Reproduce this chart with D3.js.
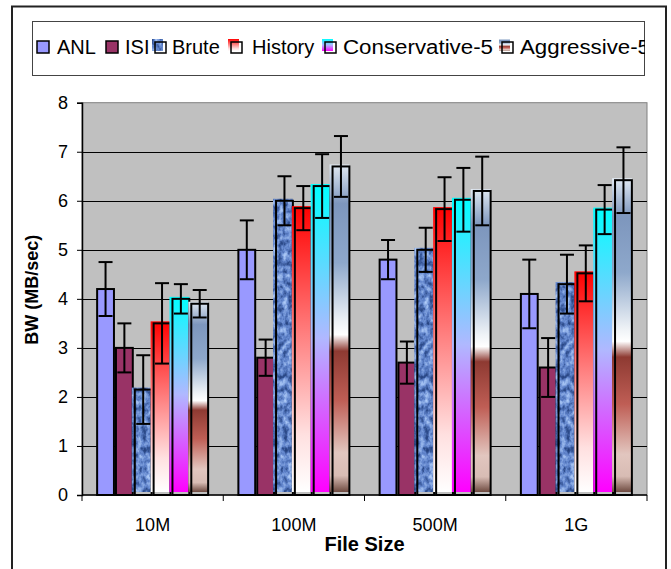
<!DOCTYPE html>
<html><head><meta charset="utf-8">
<script src="https://cdn.jsdelivr.net/npm/d3@7"></script>
<style>
html,body{margin:0;padding:0;background:#fff;}
svg{display:block;font-family:"Liberation Sans",Arial,sans-serif;}
</style></head>
<body><svg id="c" width="671" height="569"></svg>
<script>
const categories = ["10M","100M","500M","1G"];
const seriesNames = ["ANL","ISI","Brute","History","Conservative-5","Aggressive-5"];
const anlValues = [4.2, 5.0, 4.8, 4.1];
const anlErrors = [0.55, 0.6, 0.4, 0.7];
const isiValues = [3.0, 2.8, 2.7, 2.6];
const isiErrors = [0.5, 0.37, 0.43, 0.6];
const bruteValues = [2.15, 6.0, 5.0, 4.3];
const bruteErrors = [0.7, 0.5, 0.45, 0.6];
const historyValues = [3.5, 5.85, 5.83, 4.52];
const historyErrors = [0.82, 0.45, 0.65, 0.57];
const conservativeValues = [4.0, 6.3, 6.02, 5.82];
const conservativeErrors = [0.3, 0.65, 0.65, 0.5];
const aggressiveValues = [3.9, 6.7, 6.2, 6.42];
const aggressiveErrors = [0.28, 0.62, 0.7, 0.67];
const yTickValues = [0,1,2,3,4,5,6,7,8];
const xTitle = "File Size";
const yTitle = "BW (MB/sec)";

const seriesValues = [anlValues, isiValues, bruteValues, historyValues, conservativeValues, aggressiveValues];
const seriesErrors = [anlErrors, isiErrors, bruteErrors, historyErrors, conservativeErrors, aggressiveErrors];

const svg = d3.select("#c");
const defs = svg.append("defs");

function vGrad(id, stops){
  const g = defs.append("linearGradient").attr("id", id).attr("x1",0).attr("y1",0).attr("x2",0).attr("y2",1);
  stops.forEach(s => g.append("stop").attr("offset", s[0]).attr("stop-color", s[1]));
}
vGrad("gHist", [[0,"#ff0000"],[0.45,"#ff8080"],[0.8,"#ffe0e0"],[1,"#ffffff"]]);
vGrad("gCons", [[0,"#00ffff"],[0.5,"#b0b8ff"],[1,"#ff00ff"]]);
vGrad("gAggr", [[0,"#e2eaf3"],[0.12,"#7d96bd"],[0.3,"#8ea8cb"],[0.48,"#eef2f6"],[0.52,"#ffffff"],[0.57,"#8e3a32"],[0.72,"#bf5e55"],[0.88,"#e2c6bf"],[0.95,"#d8bcb4"],[1,"#6e4a40"]]);

const flt = defs.append("filter").attr("id","fBrute").attr("x",0).attr("y",0).attr("width",1).attr("height",1)
  .attr("color-interpolation-filters","sRGB");
flt.append("feTurbulence").attr("type","fractalNoise").attr("baseFrequency","0.2 0.15").attr("numOctaves",3).attr("seed",4).attr("result","n");
flt.append("feColorMatrix").attr("in","n").attr("type","matrix")
  .attr("values","1 0 0 0 0  1 0 0 0 0  1 0 0 0 0  0 0 0 0 1").attr("result","g");
const ct = flt.append("feComponentTransfer").attr("in","g").attr("result","c");
ct.append("feFuncR").attr("type","table").attr("tableValues","0.12 0.18 0.38 0.62 0.75");
ct.append("feFuncG").attr("type","table").attr("tableValues","0.22 0.3 0.52 0.74 0.85");
ct.append("feFuncB").attr("type","table").attr("tableValues","0.45 0.55 0.8 0.94 1");
flt.append("feComposite").attr("in","c").attr("in2","SourceGraphic").attr("operator","in");

const fills = ["#9999ff","#993366","#6f8fc8","url(#gHist)","url(#gCons)","url(#gAggr)"];
const offsetFill = [false,false,true,true,true,true];

svg.append("rect").attr("x",12).attr("y",6.5).attr("width",654).attr("height",575)
  .attr("fill","#fff").attr("stroke","#222").attr("stroke-width",2);

const pL = 82, pR = 647, pT = 102.7, pB = 495;
const x0 = d3.scaleBand().domain(categories).range([pL,pR]).padding(0);
const x1 = d3.scaleBand().domain(seriesNames).range([0,x0.bandwidth()]).paddingInner(0).paddingOuter(0.75);
const y = d3.scaleLinear().domain([0,8]).range([pB,pT]);

svg.append("rect").attr("x",pL).attr("y",pT).attr("width",pR-pL).attr("height",pB-pT)
  .attr("fill","#c0c0c0").attr("stroke","#808080").attr("stroke-width",1);

svg.append("g").selectAll("line").data(yTickValues.filter(v=>v>0 && v<8)).join("line")
  .attr("x1",pL).attr("x2",pR).attr("y1",d=>Math.round(y(d))+0.5).attr("y2",d=>Math.round(y(d))+0.5)
  .attr("stroke","#000").attr("stroke-width",1);

const groups = svg.append("g").selectAll("g").data(categories).join("g")
  .attr("transform", d=>`translate(${x0(d)},0)`);
groups.each(function(cat, ci){
  const g = d3.select(this);
  seriesNames.forEach((s, si) => {
    const v = seriesValues[si][ci];
    const bx = x1(s), bw = x1.bandwidth();
    const yt = y(v);
    if (offsetFill[si]) {
      const r = g.append("rect").attr("x",bx-2).attr("y",yt-2).attr("width",bw+1).attr("height",pB-3-(yt-2))
        .attr("fill", si===2 ? "#6f8fc8" : fills[si]);
      if (si===2) r.attr("filter","url(#fBrute)");
      g.append("rect").attr("x",bx+1).attr("y",yt).attr("width",bw-2).attr("height",pB-yt)
        .attr("fill","none").attr("stroke","#000").attr("stroke-width",2);
    } else {
      g.append("rect").attr("x",bx+1).attr("y",yt).attr("width",bw-2).attr("height",pB-yt)
        .attr("fill",fills[si]).attr("stroke","#000").attr("stroke-width",2);
    }
  });
  seriesNames.forEach((s, si) => {
    const v = seriesValues[si][ci], e = seriesErrors[si][ci];
    const cx = x1(s) + x1.bandwidth()/2;
    const eg = g.append("g").attr("stroke","#000").attr("stroke-width",2);
    eg.append("line").attr("x1",cx).attr("x2",cx).attr("y1",y(v+e)).attr("y2",y(v-e));
    eg.append("line").attr("x1",cx-7).attr("x2",cx+7).attr("y1",y(v+e)).attr("y2",y(v+e));
    eg.append("line").attr("x1",cx-7).attr("x2",cx+7).attr("y1",y(v-e)).attr("y2",y(v-e));
  });
});

const yAxis = d3.axisLeft(y).tickValues(yTickValues).tickSize(5).tickPadding(9).tickFormat(d3.format("d"));
const ya = svg.append("g").attr("transform",`translate(${pL},0)`).call(yAxis);
ya.select(".domain").attr("stroke","#000").attr("stroke-width",1.5);
ya.selectAll(".tick line").attr("stroke","#000");
ya.selectAll("text").attr("font-size",18).attr("fill","#000").attr("font-family","Liberation Sans, Arial, sans-serif");

const xa = svg.append("g").attr("transform",`translate(0,${pB})`);
xa.append("line").attr("x1",pL).attr("x2",pR).attr("y1",0).attr("y2",0).attr("stroke","#000").attr("stroke-width",1.5);
const boundaries = categories.map(c=>x0(c)).concat([pR]);
xa.selectAll("line.t").data(boundaries).join("line").attr("class","t")
  .attr("x1",d=>d).attr("x2",d=>d).attr("y1",0).attr("y2",6).attr("stroke","#000");
xa.selectAll("text").data(categories).join("text")
  .attr("x",d=>x0(d)+x0.bandwidth()/2).attr("y",36).attr("text-anchor","middle")
  .attr("font-size",18).text(d=>d);

svg.append("text").attr("x",(pL+pR)/2).attr("y",551).attr("text-anchor","middle")
  .attr("font-size",20).attr("font-weight","bold").text(xTitle);
svg.append("text").attr("transform",`translate(38,${(pT+pB)/2 - 9}) rotate(-90)`).attr("text-anchor","middle")
  .attr("font-size",18).attr("font-weight","bold").text(yTitle);

const lg = svg.append("g");
defs.append("clipPath").attr("id","legClip").append("rect").attr("x",32).attr("y",21).attr("width",613).attr("height",55);
lg.append("rect").attr("x",32.5).attr("y",21.5).attr("width",612).attr("height",54).attr("fill","#fff").attr("stroke","#444").attr("stroke-width",1);
const legX = [36, 105, 152, 228, 322, 499];
const legTextX = [57, 125, 172, 252, 343, 520];
const legLen = [null, null, null, null, 150, 130];
const li = lg.append("g").attr("clip-path","url(#legClip)");
seriesNames.forEach((s, si) => {
  if (!offsetFill[si]) {
    li.append("rect").attr("x",legX[si]+1).attr("y",41).attr("width",12).attr("height",12)
      .attr("fill",fills[si]).attr("stroke","#000").attr("stroke-width",1.5);
  } else {
    const r = li.append("rect").attr("x",legX[si]).attr("y",39).attr("width",11).attr("height",12)
      .attr("fill", si===2 ? "#6f8fc8" : fills[si]);
    if (si===2) r.attr("filter","url(#fBrute)");
    li.append("rect").attr("x",legX[si]+3).attr("y",42).attr("width",11).attr("height",11)
      .attr("fill","none").attr("stroke","#000").attr("stroke-width",1.5);
  }
  const t = li.append("text").attr("x",legTextX[si]).attr("y",54).attr("font-size",20).text(s);
  if (legLen[si]) t.attr("textLength",legLen[si]).attr("lengthAdjust","spacingAndGlyphs");
});
</script></body></html>
